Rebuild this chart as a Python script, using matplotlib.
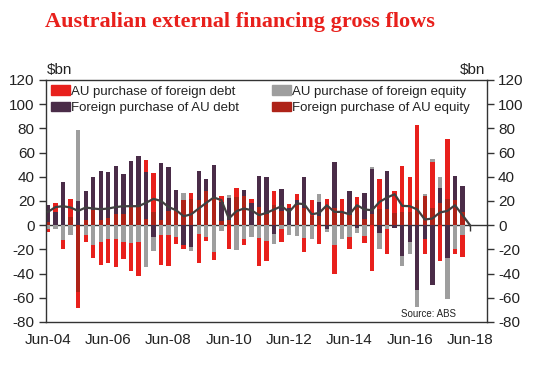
import numpy as np
import matplotlib
matplotlib.use("Agg")
import matplotlib.pyplot as plt
from matplotlib.patches import Patch

plt.rcParams['font.family'] = ['Liberation Sans', 'DejaVu Sans']
plt.rcParams['axes.unicode_minus'] = False

# quarterly, Jun-04 .. Mar-18 ($bn)
tick_labels = ['Jun-04', 'Jun-06', 'Jun-08', 'Jun-10', 'Jun-12', 'Jun-14', 'Jun-16', 'Jun-18']

au_foreign_debt = [-2, 7, -7.5, 14.5, -13.5, -5.5, -10.5, -19, -19.5, -23,
                   -14, -22.5, -28, 9.5, 32, -24, -25, -6, -3.5, 5.5,
                   -24, -3.5, -7, 4.5, -20, 7.5, -5.5, 3, -23, -17,
                   11.5, -11, 3.5, 5.5, -11.5, 12.5, -15.5, 6, -24, 11,
                   -10, 6.5, -5.5, -37.5, 25.5, -20.5, 18, 38, 28.5, 62,
                   -12.5, 38.5, -29.5, 49.5, -4.5, -18]
au_foreign_equity = [-3.5, -3.5, -12.5, -8.5, 59, -8.5, -16.5, -14, -11.5, -11.5,
                     -14, -15, -14, -34.5, -11.5, -8.5, -8.5, -9.5, 6.5, -3,
                     -7, -9.5, -22, -4.5, 2.5, -20.5, -11, -9.5, -10.5, -13,
                     -8.5, -3, -8, -9, -10.5, -11.5, 6, -3, -16.5, -11.5,
                     -9.5, -4.5, -9, 2, -13.5, -3, 0, -8, -9.5, -14.5,
                     2, 2, 9, -33.5, -19.5, -8.5]
foreign_au_debt = [14, 11, 35.5, 0, 20, 23.5, 27, 40, 38, 40,
                   33, 38, 42, 38.5, -9.5, 47.5, 36, 16.5, -16.5, -18,
                   24, 10.5, 27, 16, 18.5, 0, 5, 18.5, 25.5, 30.5,
                   -7, 18, 14, 3.5, 25.5, 0, 11.5, -3, 38.5, 0,
                   19.5, -2, 22, 37, -6.5, 32, -2, -25.5, -14, -53.5,
                   -11.5, -49.5, 12.5, -27.5, 20, 21]
foreign_au_equity = [2.5, 0, 0, 7, -55, 4.5, 12.5, 4.5, 6, 9,
                     9.5, 15, 15, 5.5, 11, 4, 12, 12.5, 20.5, 21.5,
                     20.5, 28, 23, 3.5, 4, 23, 24, 0, 15, 9,
                     16.5, 12, 0, 17, 14, 8, 8, 15.5, 14, 11,
                     8.5, 16.5, 5, 9.5, 13, 13, 10, 11, 11, 20.5,
                     24, 14, 18, 22, 20.5, 11]
# dark line, Jun-04 .. Jun-18
line_vals = [11, 15, 15.7, 14.6, 11.8, 14.6, 13.8, 13.2, 13.8, 15,
             15.7, 15.7, 15.7, 18.5, 21.8, 20, 15, 12.4, 7.4, 9,
             13.8, 18.5, 22.9, 20.7, 5.5, 11.6, 13.8, 12.4, 8.3, 10.2,
             13, 15.7, 11, 18, 17.4, 9, 10.2, 16.5, 11, 11,
             9, 16.5, 13, 12.4, 19.3, 22.9, 25.6, 16, 15.7, 13,
             4.7, 5.5, 10.5, 11.8, 16.5, 8.3, 0]

C_RED = '#E8201C'
C_GREY = '#9E9E9E'
C_PURPLE = '#4A2C48'
C_DRED = '#AE2318'
TXT = '#222222'

series = {
    'fe': (np.array(foreign_au_equity), C_DRED),
    'fd': (np.array(foreign_au_debt), C_PURPLE),
    'ad': (np.array(au_foreign_debt), C_RED),
    'ae': (np.array(au_foreign_equity), C_GREY),
}
pos_order = ['fe', 'fd', 'ad', 'ae']
neg_order = ['fe', 'fd', 'ae', 'ad']

n = len(au_foreign_debt)
x = np.arange(n)
w = 0.58

fig = plt.figure(figsize=(5.39, 3.77), dpi=100)
ax = fig.add_axes([0.0853, 0.1459, 0.8182, 0.6419])

bottom = np.zeros(n)
for key in pos_order:
    v, c = series[key]
    p = np.clip(v, 0, None)
    ax.bar(x, p, w, bottom=bottom, color=c, linewidth=0, zorder=2)
    bottom += p
bottom = np.zeros(n)
for key in neg_order:
    v, c = series[key]
    q = np.clip(v, None, 0)
    ax.bar(x, q, w, bottom=bottom, color=c, linewidth=0, zorder=2)
    bottom += q

ax.plot(np.arange(len(line_vals)), line_vals, color='#404040', lw=1.6, zorder=3)

ax.set_ylim(-80, 120)
ax.set_xlim(-0.27, 58.25)
ax.set_yticks(np.arange(-80, 121, 20))
tick_pos = np.arange(0, 57, 8)
ax.set_xticks(tick_pos, tick_labels)
ax.tick_params(axis='x', length=0, pad=8, labelsize=11, labelcolor=TXT)
ax.tick_params(axis='y', left=True, right=True, labelleft=True, labelright=True,
               direction='out', length=5, width=1, color='#333333',
               labelsize=11, labelcolor=TXT, pad=3)
for s in ax.spines.values():
    s.set_color('#333333')
    s.set_linewidth(1)

# zero axis with its own tick marks
zero_ax = ax.secondary_xaxis(0.4)
zero_ax.set_xticks(tick_pos)
zero_ax.tick_params(length=4, width=1, color='#333333', labelbottom=False, labeltop=False)
zero_ax.spines['bottom'].set_color('#333333')
zero_ax.spines['bottom'].set_linewidth(1)

ax.text(0.003, 1.012, '$bn', transform=ax.transAxes, ha='left', va='bottom',
        fontsize=11, color=TXT)
ax.text(0.997, 1.012, '$bn', transform=ax.transAxes, ha='right', va='bottom',
        fontsize=11, color=TXT)
ax.text(0.805, 0.035, 'Source: ABS', transform=ax.transAxes, ha='left', va='center',
        fontsize=7, color=TXT)

handles = [Patch(color=C_RED, label='AU purchase of foreign debt'),
           Patch(color=C_PURPLE, label='Foreign purchase of AU debt'),
           Patch(color=C_GREY, label='AU purchase of foreign equity'),
           Patch(color=C_DRED, label='Foreign purchase of AU equity')]
leg = ax.legend(handles=handles, ncol=2, loc='upper left', bbox_to_anchor=(0.0, 1.0),
                frameon=False, fontsize=9.5, handlelength=1.4, handleheight=0.75,
                handletextpad=0.1, labelspacing=0.3, columnspacing=2.5,
                borderaxespad=0.2, borderpad=0.2)
for t in leg.get_texts():
    t.set_color(TXT)

fig.text(0.083, 0.942, 'Australian external financing gross flows', family='Liberation Serif',
         fontweight='bold', fontsize=16, color=C_RED, ha='left', va='center')

fig.savefig('out.png', dpi=100)
